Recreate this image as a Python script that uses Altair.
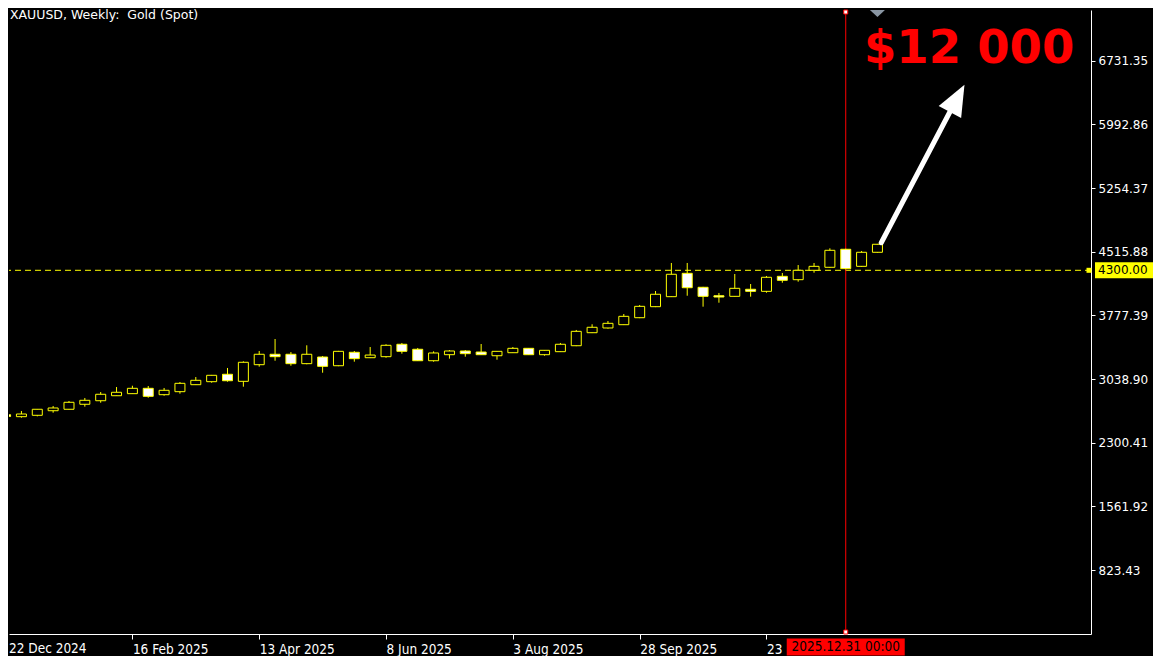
import altair as alt
import pandas as pd

# ---------------- data ----------------
# weekly candles, week 0 = 22 Dec 2024
weeks = list(range(56))
opens = [2625, 2602, 2618, 2671, 2688, 2746, 2787, 2845, 2869, 2931,
         2857, 2892, 2973, 3008, 3094, 3012, 3205, 3326, 3326, 3217,
         3294, 3193, 3349, 3286, 3298, 3442, 3384, 3251, 3321, 3364,
         3352, 3309, 3344, 3395, 3321, 3356, 3425, 3576, 3631, 3669,
         3750, 3878, 3994, 4265, 4103, 4005, 3998, 4080, 4056, 4230,
         4191, 4300, 4335, 4544, 4346, 4509]
highs = [2628, 2668, 2690, 2726, 2784, 2819, 2888, 2946, 2961, 2958,
         2935, 3004, 3062, 3086, 3167, 3244, 3364, 3503, 3352, 3430,
         3306, 3365, 3364, 3410, 3442, 3457, 3399, 3360, 3375, 3375,
         3445, 3363, 3410, 3398, 3375, 3457, 3608, 3674, 3712, 3793,
         3897, 4060, 4385, 4385, 4108, 4037, 4257, 4141, 4234, 4269,
         4361, 4385, 4555, 4550, 4524, 4606]
lows = [2600, 2590, 2606, 2648, 2686, 2718, 2764, 2842, 2866, 2822,
        2845, 2869, 2970, 2996, 3008, 2950, 3182, 3251, 3193, 3210,
        3112, 3188, 3240, 3282, 3286, 3333, 3248, 3240, 3275, 3298,
        3318, 3263, 3341, 3318, 3309, 3352, 3420, 3572, 3623, 3665,
        3745, 3873, 3990, 4005, 3878, 3924, 3995, 3994, 4040, 4156,
        4168, 4272, 4330, 4312, 4340, 4505]
closes = [2604, 2633, 2688, 2703, 2769, 2792, 2862, 2885, 2931, 2838,
          2908, 2989, 3024, 3082, 3019, 3233, 3326, 3298, 3217, 3326,
          3186, 3360, 3275, 3317, 3430, 3360, 3251, 3341, 3364, 3333,
          3321, 3360, 3395, 3321, 3372, 3442, 3592, 3639, 3685, 3766,
          3882, 4022, 4254, 4098, 3998, 3990, 4091, 4056, 4219, 4184,
          4300, 4346, 4532, 4319, 4509, 4602]

tick_weeks = [8, 16, 24, 32, 40, 48]
tick_labels = ["22 Dec 2024", "16 Feb 2025", "13 Apr 2025", "8 Jun 2025",
               "3 Aug 2025", "28 Sep 2025", "23"]
price_ticks = [823.43, 1561.92, 2300.41, 3038.90, 3777.39,
               4515.88, 5254.37, 5992.86, 6731.35]
level_price = [4300.0]
level_text = ["4300.00"]
cursor_week = [53]
cursor_text = ["2025.12.31 00:00"]
marker_week = [55]
title_text = ["XAUUSD, Weekly:\u00a0 Gold (Spot)"]
target_text = ["$12 000"]
target_week = [54.15]
target_price = [6700]
arrow_from_week = [55.24]
arrow_from_price = [4620]
arrow_shaft_week = [60.03]
arrow_shaft_price = [6299]
arrow_tip_week = [60.49]
arrow_tip_price = [6453]

# ---------------- styling ----------------
W, H = 1082, 624
YEL = "#ffff00"
WHITE = "#ffffff"
RED = "#ff0000"
SANS = "DejaVu Sans"
COND = "'DejaVu Sans Condensed', 'Liberation Sans Narrow', 'Roboto Condensed', 'DejaVu Sans', sans-serif"

x_scale = alt.Scale(domain=[0.53125, 68.15625], nice=False, zero=False)
y_scale = alt.Scale(domain=[81.1, 7319.5], nice=False, zero=False)

label_expr = "[" + ",".join("'" + t + "'" for t in tick_labels) + "][datum.value / 8]"
x_axis = alt.Axis(values=tick_weeks, labelExpr=label_expr, orient="bottom",
                  labelAlign="left", labelBaseline="top", labelColor=WHITE,
                  labelFont=COND, labelFontSize=13.5, labelPadding=3,
                  tickSize=5, tickColor=WHITE, domainColor=WHITE, grid=False,
                  title=None, labelOverlap=False, labelFlush=False, labelBound=False)
y_axis = alt.Axis(values=price_ticks, format=".2f", orient="right",
                  labelColor=WHITE, labelFont=SANS, labelFontSize=12,
                  labelPadding=3, tickSize=4, tickColor=WHITE,
                  domainColor=WHITE, grid=False, title=None,
                  labelOverlap=False, labelFlush=False, labelBound=False)


def X(f):
    return alt.X(f"{f}:Q", scale=x_scale, axis=x_axis)


def Y(f):
    return alt.Y(f"{f}:Q", scale=y_scale, axis=y_axis)


candles = pd.DataFrame({"i": weeks, "o": opens, "h": highs, "l": lows, "c": closes})
candles["dir"] = ["up" if c >= o else "down" for o, c in zip(opens, closes)]

wicks = alt.Chart(candles).mark_rule(color=YEL, strokeWidth=1, clip=True).encode(
    x=X("i"), y=Y("l"), y2="h")
bodies = alt.Chart(candles).mark_bar(size=10, stroke=YEL, strokeWidth=1, clip=True,
                                     opacity=1).encode(
    x=X("i"), y=Y("o"), y2="c",
    fill=alt.Fill("dir:N", scale=alt.Scale(domain=["up", "down"], range=["#000000", "#ffffff"]),
                  legend=None))

level_df = pd.DataFrame({"v": level_price, "t": level_text})
level_line = alt.Chart(level_df).mark_rule(color=YEL, strokeWidth=1, strokeDash=[6, 4]).encode(y=Y("v"))
level_end = alt.Chart(level_df).mark_point(shape="square", size=25, filled=True, color=YEL,
                                           opacity=1).encode(x=alt.value(W - 2), y=Y("v"))
level_box = alt.Chart(level_df).mark_point(shape="M-1,-0.276L1,-0.276L1,0.276L-1,0.276Z",
                                           size=58 * 58, filled=True, color=YEL, opacity=1,
                                           strokeWidth=0).encode(x=alt.value(W + 33), y=Y("v"))
level_label = alt.Chart(level_df).mark_text(align="left", baseline="middle", font=SANS,
                                            fontSize=12, color="#000000").encode(
    x=alt.value(W + 7), y=Y("v"), text="t:N")

cur_df = pd.DataFrame({"i": cursor_week, "t": cursor_text})
cursor = alt.Chart(cur_df).mark_rule(color=RED, strokeWidth=1).encode(x=X("i"))
cur_top = alt.Chart(cur_df).mark_point(shape="square", size=16, filled=True, fill=WHITE,
                                       stroke=RED, strokeWidth=1, opacity=1).encode(
    x=X("i"), y=alt.value(2))
cur_bot = alt.Chart(cur_df).mark_point(shape="square", size=16, filled=True, fill=WHITE,
                                       stroke=RED, strokeWidth=1, opacity=1).encode(
    x=X("i"), y=alt.value(H - 2))
cur_box = alt.Chart(cur_df).mark_point(shape="M-1,-0.144L1,-0.144L1,0.144L-1,0.144Z",
                                       size=118 * 118, filled=True, color=RED, opacity=1,
                                       strokeWidth=0).encode(x=X("i"), y=alt.value(H + 13))
cur_label = alt.Chart(cur_df).mark_text(align="center", baseline="middle", font=COND,
                                        fontSize=13.5, color="#000000").encode(
    x=X("i"), y=alt.value(H + 13), text="t:N")

first_df = pd.DataFrame({"t": tick_labels[:1]})
first_label = alt.Chart(first_df).mark_text(align="left", baseline="top", font=COND,
                                            fontSize=13.5, color=WHITE).encode(
    x=alt.value(0), y=alt.value(H + 8), text="t:N")

mk_df = pd.DataFrame({"i": marker_week})
marker = alt.Chart(mk_df).mark_point(shape="M-1,0L1,0L0,0.93Z", size=225, filled=True,
                                     color="#8a96a3", opacity=1, strokeWidth=0).encode(
    x=X("i"), y=alt.value(0))

title_df = pd.DataFrame({"t": title_text})
title = alt.Chart(title_df).mark_text(align="left", baseline="middle", font=SANS,
                                      fontSize=12.5, color=WHITE).encode(
    x=alt.value(1), y=alt.value(5), text="t:N")

tgt_df = pd.DataFrame({"i": target_week, "v": target_price, "t": target_text})
target = alt.Chart(tgt_df).mark_text(align="left", baseline="alphabetic", font=SANS,
                                     fontWeight="bold", fontSize=46.5, color=RED).encode(
    x=X("i"), y=Y("v"), text="t:N")

arr_df = pd.DataFrame({"x0": arrow_from_week, "y0": arrow_from_price,
                       "x1": arrow_shaft_week, "y1": arrow_shaft_price})
shaft = alt.Chart(arr_df).mark_rule(color=WHITE, strokeWidth=5, strokeCap="round").encode(
    x=X("x0"), y=Y("y0"), x2="x1", y2="y1")
tip_df = pd.DataFrame({"i": arrow_tip_week, "v": arrow_tip_price})
head = alt.Chart(tip_df).mark_point(shape="M0,0L0.41,1L-0.41,1Z", size=62 * 62, filled=True,
                                    color=WHITE, opacity=1, strokeWidth=0, angle=28).encode(
    x=X("i"), y=Y("v"))

chart = alt.layer(
    level_line, cursor, wicks, bodies, shaft, head, target, title, marker,
    level_end, level_box, level_label, cur_top, cur_bot, cur_box, cur_label, first_label
).properties(
    width=W, height=H, padding=0, background="#000000"
).configure_view(stroke=None)

chart.save("out.html", embed_options={"renderer": "svg", "actions": False})
